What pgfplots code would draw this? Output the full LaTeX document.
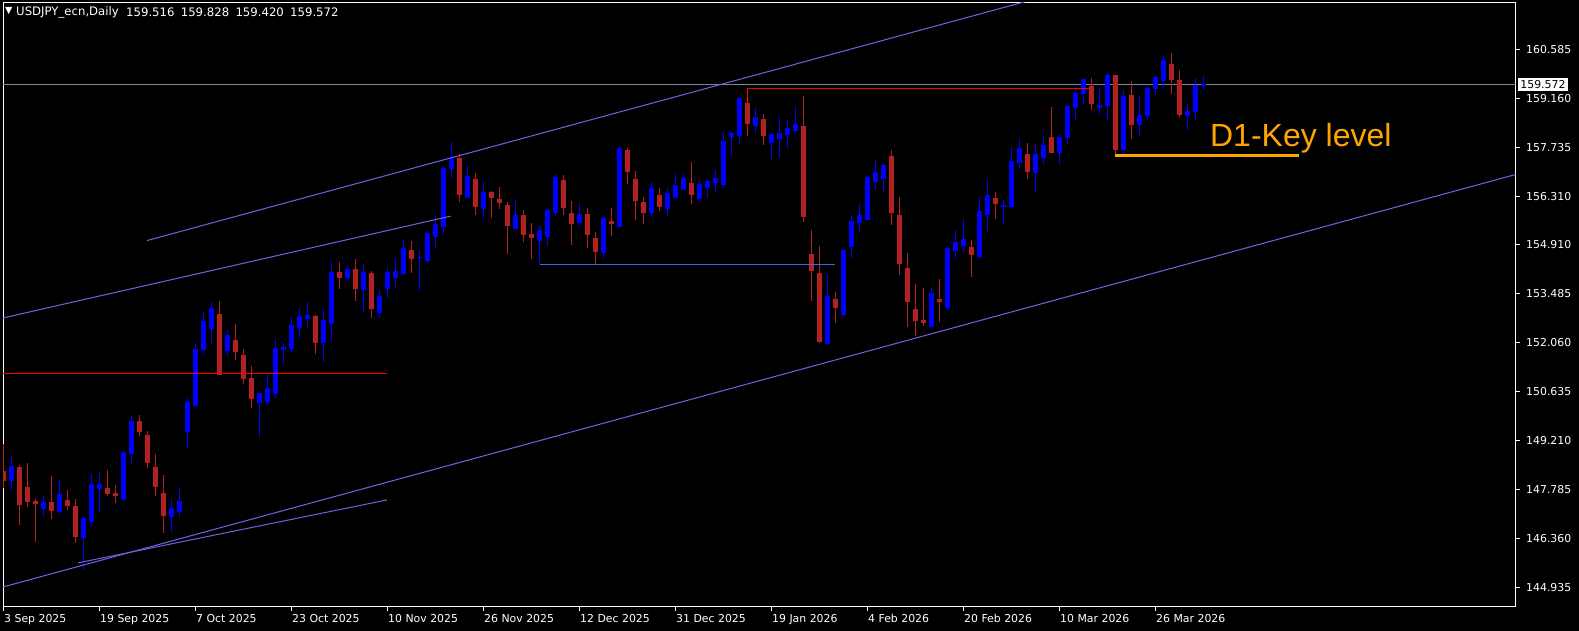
\documentclass[border=0pt]{standalone}
\usepackage{fontspec}
\setmainfont{DejaVu Sans}
\newfontfamily\lib{Liberation Sans}
\usepackage{pgfplots}
\usepackage{pgfplotstable}
\pgfplotsset{compat=1.18}
\definecolor{cbull}{RGB}{0,0,255}
\definecolor{cbear}{RGB}{178,34,34}
\definecolor{chan}{RGB}{110,100,225}
\definecolor{pline}{RGB}{119,136,153}
\definecolor{hblue}{RGB}{65,105,225}
\definecolor{korange}{RGB}{255,165,0}

\pgfplotstableread{
i o h l c
1 148.04 148.77 147.76 148.48
5 147.23 147.63 147.03 147.43
7 147.15 148.07 147.05 147.66
10 146.39 147.02 145.45 146.97
11 146.86 148.24 146.71 147.95
12 147.81 148.27 147.15 147.95
15 147.49 148.92 147.47 148.89
16 148.84 149.94 148.51 149.79
21 146.99 147.52 146.57 147.26
22 147.15 147.81 147.00 147.46
23 149.47 150.48 149.01 150.34
24 150.23 152.04 150.18 151.88
25 151.86 152.98 151.70 152.69
26 152.46 153.24 152.05 153.07
28 151.83 152.42 151.68 152.28
32 150.31 150.61 149.32 150.59
33 150.35 151.15 150.23 150.74
34 150.58 152.17 150.43 151.91
35 151.86 152.04 151.45 151.94
36 151.88 152.80 151.80 152.58
37 152.50 153.07 152.17 152.84
38 152.75 153.24 152.52 152.87
40 152.05 153.03 151.51 152.72
41 152.61 154.44 152.11 154.12
43 153.94 154.29 153.86 154.20
45 153.60 154.35 152.93 154.12
47 152.91 153.59 152.79 153.42
48 153.62 154.26 153.37 154.12
49 153.95 154.49 153.63 154.15
50 154.07 155.05 154.01 154.81
52 154.51 154.76 153.56 154.53
53 154.45 155.30 154.39 155.25
54 155.13 155.74 154.79 155.51
55 155.42 157.20 155.20 157.14
56 157.11 157.90 156.86 157.43
58 156.28 157.20 156.26 156.91
60 155.94 156.74 155.65 156.44
64 155.37 156.18 155.37 155.77
67 155.03 155.48 154.34 155.34
68 155.14 155.98 154.88 155.92
69 155.83 156.97 155.73 156.88
72 155.55 156.12 155.43 155.80
75 154.68 155.74 154.50 155.69
77 155.43 157.78 155.41 157.72
81 155.83 156.73 155.72 156.56
83 155.95 156.56 155.72 156.41
84 156.28 156.99 156.27 156.65
85 156.51 156.99 156.50 156.85
87 156.24 156.79 156.15 156.67
88 156.56 156.82 156.27 156.76
89 156.70 157.08 156.44 156.85
90 156.65 158.19 156.56 157.92
91 158.04 158.21 157.49 158.16
92 158.07 159.20 157.87 159.17
94 158.36 158.88 158.16 158.62
96 157.87 158.16 157.40 158.13
97 157.98 158.62 157.43 158.16
98 158.10 158.53 157.72 158.30
99 158.21 158.91 158.16 158.42
103 152.02 154.06 152.02 153.42
105 152.87 154.78 152.81 154.76
106 154.84 155.77 154.53 155.60
107 155.54 156.09 155.29 155.77
108 155.64 156.94 155.63 156.88
109 156.74 157.34 156.50 157.02
110 156.82 157.29 156.47 157.23
116 152.52 153.65 152.49 153.51
118 153.08 154.87 153.01 154.81
119 154.73 155.34 154.49 154.99
120 154.87 155.66 154.70 155.08
122 154.55 156.30 154.49 155.89
123 155.77 156.82 155.31 156.36
125 156.01 156.24 155.51 156.06
126 156.01 157.75 156.01 157.34
127 157.29 157.98 157.11 157.72
129 156.99 157.87 156.41 157.55
130 157.43 158.10 157.26 157.81
132 157.58 158.13 157.26 158.04
133 158.01 158.97 157.84 158.94
134 158.88 159.47 158.54 159.32
135 159.29 159.76 158.97 159.73
137 158.88 159.49 158.68 158.97
138 158.94 159.90 158.53 159.84
140 157.66 159.41 157.55 159.23
142 158.39 159.20 158.07 158.68
143 158.65 159.52 158.54 159.47
144 159.44 159.84 159.26 159.79
145 159.67 160.42 159.44 160.28
148 158.65 159.03 158.24 158.80
149 158.77 159.76 158.51 159.55
150 159.516 159.828 159.420 159.572
}\bull

\pgfplotstableread{
i o h l c
0 148.33 149.12 147.84 148.04
2 148.45 148.51 146.76 147.35
3 147.87 148.57 147.28 147.44
4 147.47 147.52 146.28 147.38
6 147.43 148.19 146.95 147.18
8 147.49 147.78 147.20 147.32
9 147.31 147.52 146.25 146.42
13 147.84 148.36 147.61 147.67
14 147.69 147.92 147.41 147.61
17 149.79 149.97 149.36 149.47
18 149.38 149.49 148.43 148.57
19 148.45 148.83 147.60 147.88
20 147.69 148.22 146.54 147.03
27 152.90 153.27 151.13 151.13
29 152.14 152.60 151.57 151.80
30 151.70 151.88 150.86 151.02
31 151.04 151.38 150.17 150.41
39 152.84 152.87 151.73 152.06
42 154.12 154.41 153.62 153.94
44 154.20 154.49 153.27 153.62
46 154.09 154.15 152.79 153.05
51 154.76 155.02 154.10 154.49
57 157.43 157.55 156.16 156.36
59 156.82 157.00 155.78 156.02
61 156.44 156.46 155.69 156.28
62 156.24 156.59 155.96 156.12
63 156.06 156.15 154.65 155.46
65 155.77 155.92 155.00 155.20
66 155.22 155.54 154.50 155.09
70 156.79 156.94 155.78 155.99
71 155.83 156.18 154.91 155.52
73 155.80 155.98 154.82 155.20
74 155.11 155.28 154.36 154.71
76 155.60 155.98 155.15 155.51
78 157.66 157.72 156.67 157.02
79 156.82 157.05 155.63 156.18
80 156.15 156.30 155.51 155.83
82 156.36 156.56 155.89 156.01
86 156.70 157.31 156.09 156.36
93 159.03 159.46 158.07 158.42
95 158.56 158.71 157.81 158.07
100 158.36 159.23 155.57 155.71
101 154.64 155.34 153.27 154.15
102 154.09 154.87 152.05 152.08
104 153.33 153.53 152.63 153.07
111 157.49 157.66 155.48 155.84
112 155.77 156.30 154.03 154.36
113 154.23 154.67 152.53 153.23
114 153.04 153.77 152.26 152.70
115 152.72 153.65 152.55 152.63
117 153.33 153.91 152.66 153.24
121 154.84 155.05 153.97 154.61
124 156.27 156.44 155.66 156.09
128 157.55 157.87 156.82 157.02
131 158.04 158.91 157.58 157.58
136 159.52 159.76 158.83 159.00
139 159.84 159.84 157.51 157.66
141 159.26 159.67 157.98 158.39
146 160.16 160.48 159.29 159.70
147 159.70 159.99 158.62 158.68
}\bear

\begin{document}
\begin{tikzpicture}
\fill[black] (-3pt,-24pt) rectangle (1576pt,607pt);
\begin{axis}[
  at={(0pt,0pt)}, anchor=south west, scale only axis,
  width=1512.5pt, height=604pt,
  xmin=-0.0625, xmax=189, ymin=144.378, ymax=161.936,
  axis line style={draw=white, line width=1pt},
  xtick={0,12,...,144},
  xticklabels={3 Sep 2025,19 Sep 2025,7 Oct 2025,23 Oct 2025,10 Nov 2025,26 Nov 2025,12 Dec 2025,31 Dec 2025,19 Jan 2026,4 Feb 2026,20 Feb 2026,10 Mar 2026,26 Mar 2026},
  ytick={144.935,146.360,147.785,149.210,150.635,152.060,153.485,154.910,156.310,157.735,159.160,160.585},
  yticklabels={144.935,146.360,147.785,149.210,150.635,152.060,153.485,154.910,156.310,157.735,159.160,160.585},
  xtick pos=bottom, ytick pos=right, yticklabel pos=right,
  tick align=outside, major tick length=4pt,
  tick style={white, line width=1pt},
  tick label style={text=white, font=\fontsize{10.9}{12}\selectfont, inner sep=0pt},
  xticklabel style={anchor=north west, yshift=-3pt, xshift=0.5pt},
  yticklabel style={anchor=west, xshift=6.5pt},
]
% current price line
\addplot[pline, line width=1pt, forget plot] coordinates {(-1,159.572) (190,159.572)};
% wicks
\addplot[draw=none, mark=none, forget plot,
  error bars/.cd, y dir=plus, y explicit, error mark=none,
  error bar style={line width=1pt, draw=cbull, solid}]
  table[x=i, y=l, y error plus expr=\thisrow{h}-\thisrow{l}] {\bull};
\addplot[draw=none, mark=none, forget plot,
  error bars/.cd, y dir=plus, y explicit, error mark=none,
  error bar style={line width=1pt, draw=cbear, solid}]
  table[x=i, y=l, y error plus expr=\thisrow{h}-\thisrow{l}] {\bear};
% bodies
\addplot[draw=none, mark=none, forget plot,
  error bars/.cd, y dir=plus, y explicit, error mark=none,
  error bar style={line width=5pt, draw=cbull, solid}]
  table[x=i, y=o, y error plus expr={max(\thisrow{c}-\thisrow{o},0.03)}] {\bull};
\addplot[draw=none, mark=none, forget plot,
  error bars/.cd, y dir=plus, y explicit, error mark=none,
  error bar style={line width=5pt, draw=cbear, solid}]
  table[x=i, y=c, y error plus expr={max(\thisrow{o}-\thisrow{c},0.03)}] {\bear};
% objects
\addplot[chan, line width=1pt, forget plot] coordinates {(17.94,155.03) (130,162.12)};
\addplot[chan, line width=1pt, forget plot] coordinates {(-0.06,152.78) (55.9,155.74)};
\addplot[chan, line width=1pt, forget plot] coordinates {(-0.06,144.96) (189,156.95)};
\addplot[chan, line width=1pt, forget plot] coordinates {(9.31,145.66) (47.94,147.49)};
\addplot[red, line width=1pt, forget plot] coordinates {(-0.06,151.17) (47.9,151.17)};
\addplot[hblue, line width=1pt, forget plot] coordinates {(67,154.34) (103.9,154.34)};
\addplot[red, line width=1pt, forget plot] coordinates {(93,159.456) (136.06,159.456)};
\addplot[red, line width=1pt, forget plot] coordinates {(93,159.456) (93,159.1)};
\addplot[korange, line width=3pt, forget plot] coordinates {(138.9,157.507) (161.9,157.507)};
\node[anchor=west, inner sep=0pt, text=korange, font=\lib\fontsize{32}{36}\selectfont] at (axis cs:150.8,158.01) {D1-Key level};
\coordinate (cp) at (axis cs:189,159.572);
\end{axis}
\node[anchor=west, fill=white, text=black, inner xsep=2.7pt, inner ysep=0pt, minimum height=13pt, font=\fontsize{10.9}{12}\selectfont, xshift=2pt] at (cp) {159.572};
\node[anchor=center, text=white, inner sep=0pt, font=\fontsize{9.5}{10}\selectfont] at (5.8pt,595.5pt) {▼};
\node[anchor=west, text=white, inner sep=0pt, font=\fontsize{11.7}{13}\selectfont] at (13pt,595pt) {USDJPY\_ecn,Daily};
\node[anchor=west, text=white, inner sep=0pt, font=\fontsize{11.7}{13}\selectfont] at (123pt,595pt) {159.516\hspace{6.3pt}159.828\hspace{6.3pt}159.420\hspace{6.3pt}159.572};
\pgfresetboundingbox
\path[use as bounding box] (-3pt,-24pt) rectangle (1576pt,607pt);
\end{tikzpicture}
\end{document}
